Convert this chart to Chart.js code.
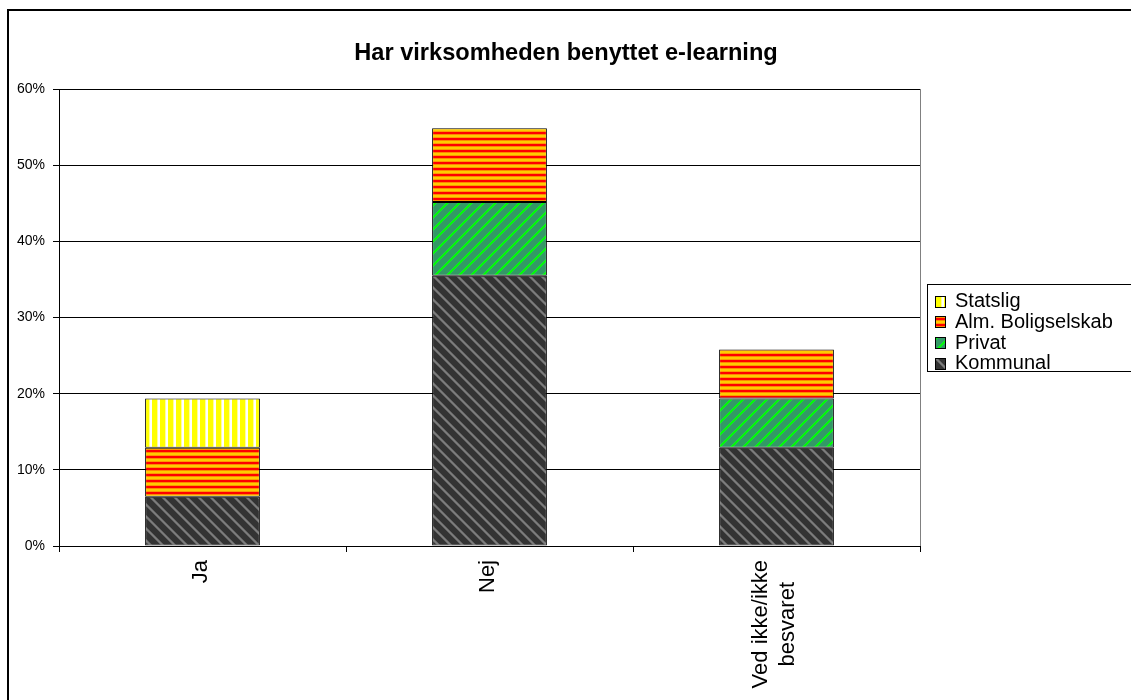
<!DOCTYPE html>
<html>
<head>
<meta charset="utf-8">
<script src="https://cdn.jsdelivr.net/npm/chart.js@4/dist/chart.umd.min.js"></script>
<style>
  html, body { margin: 0; padding: 0; background: #fff; }
  canvas { display: block; }
</style>
</head>
<body>
<canvas id="chart" width="1131" height="700"></canvas>
<script>
// data (share of answers, %)
var categories = ['Ja', 'Nej', ['Ved ikke/ikke', 'besvaret']];
var kommunal = [6.45, 35.48, 12.9];
var privat = [0, 9.68, 6.45];
var alm = [6.45, 9.68, 6.45];
var statslig = [6.45, 0, 0];
var seriesNames = ['Kommunal', 'Privat', 'Alm. Boligselskab', 'Statslig'];
var chartTitle = 'Har virksomheden benyttet e-learning';

var FONT = '"Liberation Sans", Arial, sans-serif';

// small tiles used as fill patterns (like the old excel hatches)
function tile(w, h, paint) {
  var c = document.createElement('canvas');
  c.width = w; c.height = h;
  var g = c.getContext('2d');
  paint(g, w, h);
  return g.createPattern(c, 'repeat');
}

function px(g, x, y, col) {
  g.fillStyle = col;
  g.fillRect(x, y, 1, 1);
}

var kommunalFill = tile(12, 12, function(g, w, h) {
  g.fillStyle = '#333333';
  g.fillRect(0, 0, w, h);
  for (var x = 0; x < w; x++) {
    for (var y = 0; y < h; y++) {
      var d = ((x - y) % 12 + 12) % 12;
      if (d < 4) px(g, x, y, d == 0 || d == 3 ? '#5e5e5e' : '#7c7c7c');
    }
  }
});

var privatFill = tile(12, 12, function(g, w, h) {
  g.fillStyle = '#339966';
  g.fillRect(0, 0, w, h);
  for (var x = 0; x < w; x++) {
    for (var y = 0; y < h; y++) {
      var d = (x + y) % 12;
      if (d < 4) px(g, x, y, d == 0 || d == 3 ? '#22c84a' : '#00ff00');
    }
  }
});

var almFill = tile(6, 6, function(g) {
  var rows = ['#ff0000', '#ff0000', '#ff8800', '#ffcc00', '#ffcc00', '#ff9900'];
  rows.forEach(function(col, y) {
    g.fillStyle = col;
    g.fillRect(0, y, 6, 1);
  });
});

var statsligFill = tile(8, 8, function(g) {
  var cols = ['#ffff00', '#ffff00', '#ffff00', '#ffff00', '#ffff00', '#ffff99', '#ffffff', '#ffffff'];
  cols.forEach(function(col, x) {
    g.fillStyle = col;
    g.fillRect(x, 0, 1, 8);
  });
});

var fills = [kommunalFill, privatFill, almFill, statsligFill];
var values = [kommunal, privat, alm, statslig];

// frame, title, plot border, rotated category labels and legend
var decor = {
  id: 'decor',
  beforeDraw: function(chart) {
    var ctx = chart.ctx;
    ctx.save();
    ctx.fillStyle = '#fff';
    ctx.fillRect(0, 0, chart.width, chart.height);
    ctx.restore();
  },
  beforeDatasetsDraw: function(chart) {
    var ctx = chart.ctx, a = chart.chartArea;
    ctx.save();
    ctx.strokeStyle = '#808080';
    ctx.lineWidth = 1;
    ctx.beginPath();
    ctx.moveTo(Math.round(a.right) + 0.5, a.top);
    ctx.lineTo(Math.round(a.right) + 0.5, a.bottom);
    ctx.stroke();
    ctx.restore();
  },
  afterDraw: function(chart) {
    var ctx = chart.ctx;
    var xs = chart.scales.x;
    ctx.save();
    // outer frame
    ctx.strokeStyle = '#000';
    ctx.lineWidth = 2;
    ctx.strokeRect(8, 10, 2000, 2000);

    // title
    ctx.fillStyle = '#000';
    ctx.font = 'bold 23.6px ' + FONT;
    ctx.textAlign = 'center';
    ctx.textBaseline = 'middle';
    ctx.fillText(chartTitle, 566, 53);

    // category labels, rotated, top aligned, lines centred on each other
    ctx.font = '22px ' + FONT;
    categories.forEach(function(lab, i) {
      var lines = Array.isArray(lab) ? lab : [lab];
      var w = 0;
      lines.forEach(function(l) { w = Math.max(w, ctx.measureText(l).width); });
      var cx = xs.getPixelForValue(i) - 2;
      var top = xs.top + 14;
      ctx.save();
      ctx.translate(cx, top + w / 2);
      ctx.rotate(-Math.PI / 2);
      lines.forEach(function(l, j) {
        ctx.fillText(l, 0, (j - (lines.length - 1) / 2) * 27);
      });
      ctx.restore();
    });

    // legend box
    ctx.lineWidth = 1;
    ctx.strokeRect(927.5, 284.5, 400, 87);
    ctx.font = '20px ' + FONT;
    ctx.textAlign = 'left';
    var items = chart.data.datasets.slice().reverse();
    items.forEach(function(ds, i) {
      var cy = 300.5 + i * 20.8;
      ctx.fillStyle = ds.backgroundColor;
      ctx.fillRect(935, Math.round(cy - 5), 10, 11);
      ctx.strokeStyle = '#000';
      ctx.strokeRect(935.5, Math.round(cy - 5) + 0.5, 10, 11);
      ctx.fillStyle = '#000';
      ctx.fillText(ds.label, 955, cy + 1);
    });
    ctx.restore();
  }
};

var datasets = seriesNames.map(function(name, i) {
  return {
    label: name,
    data: values[i],
    backgroundColor: fills[i],
    borderColor: '#000',
    borderWidth: 1,
    borderSkipped: false,
    barPercentage: 0.4,
    categoryPercentage: 1.0
  };
});

var ctx = document.getElementById('chart').getContext('2d');
new Chart(ctx, {
  type: 'bar',
  data: { labels: categories, datasets: datasets },
  plugins: [decor],
  options: {
    responsive: false,
    animation: false,
    devicePixelRatio: 1,
    layout: { padding: { left: 0, right: 211, top: 89, bottom: 0 } },
    plugins: {
      legend: { display: false },
      title: { display: false },
      tooltip: { enabled: false }
    },
    scales: {
      x: {
        stacked: true,
        afterFit: function(scale) { scale.height = 154; },
        grid: {
          offset: true,
          drawOnChartArea: false,
          drawTicks: true,
          tickLength: 6,
          color: '#000'
        },
        border: { color: '#000', width: 1 },
        ticks: { display: false }
      },
      y: {
        stacked: true,
        min: 0,
        max: 60,
        afterFit: function(scale) { scale.width = 59; },
        grid: {
          color: '#000',
          lineWidth: 1,
          tickLength: 6
        },
        border: { color: '#000', width: 1 },
        ticks: {
          stepSize: 10,
          padding: 8,
          color: '#000',
          font: { family: FONT, size: 14 },
          callback: function(v) { return v + '%'; }
        }
      }
    }
  }
});
</script>
</body>
</html>
